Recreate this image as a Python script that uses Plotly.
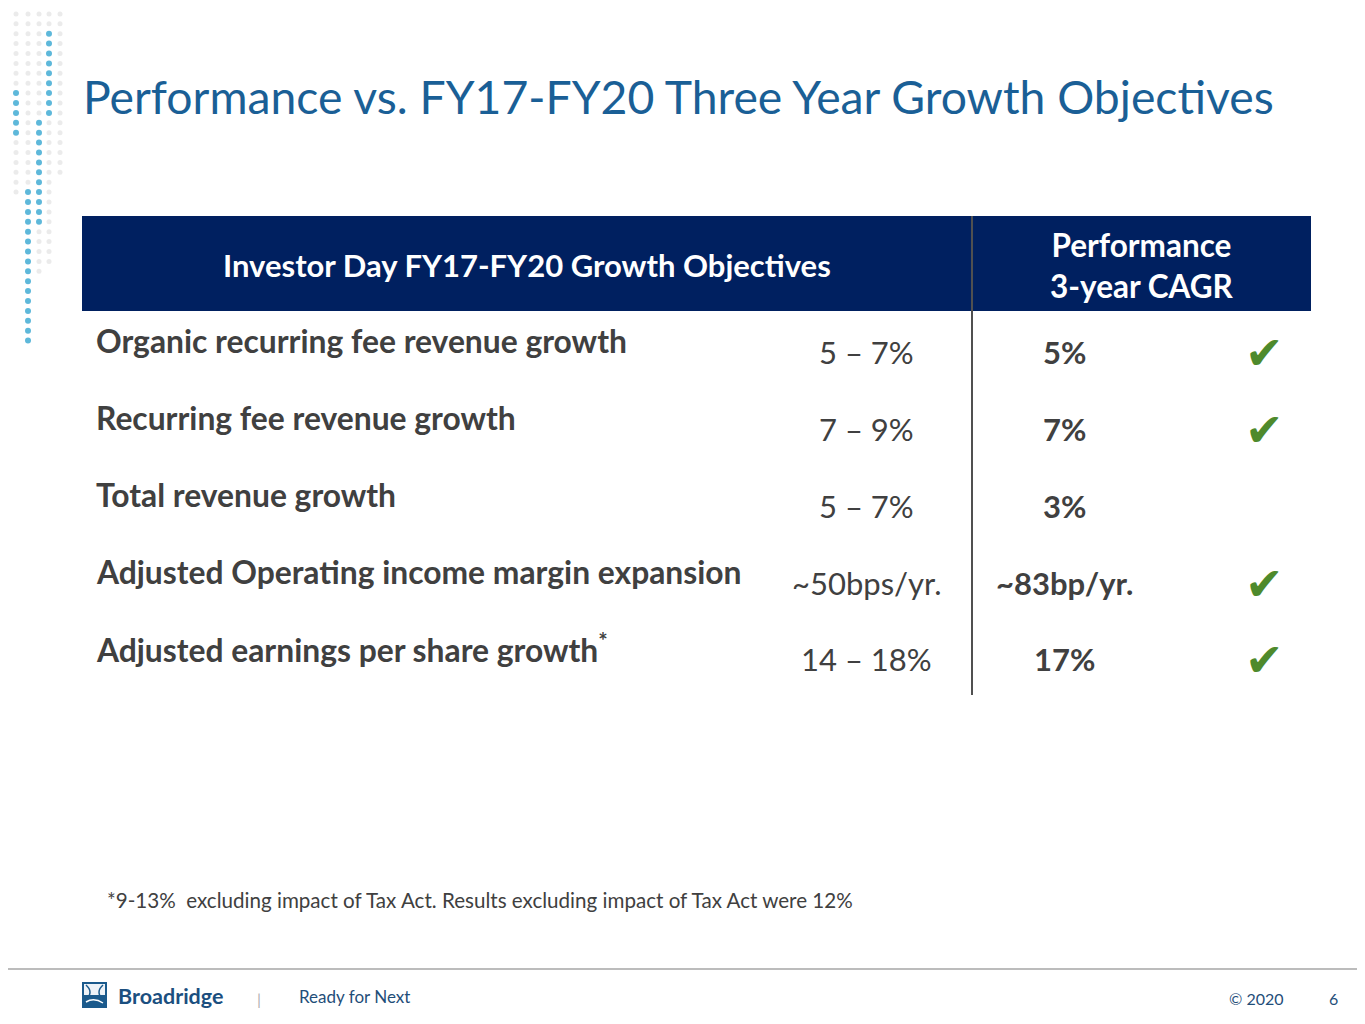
import plotly.graph_objects as go

# table content
objectives = ['Organic recurring fee revenue growth',
              'Recurring fee revenue growth',
              'Total revenue growth',
              'Adjusted Operating income margin expansion',
              'Adjusted earnings per share growth<sup>*</sup>']
targets = ['5 – 7%', '7 – 9%', '5 – 7%', '~50bps/yr.', '14 – 18%']
performance = ['5%', '7%', '3%', '~83bp/yr.', '17%']
achieved = [True, True, False, True, True]

header_left = 'Investor Day FY17-FY20 Growth Objectives'
header_right = 'Performance<br>3-year CAGR'
title = 'Performance vs. FY17-FY20 Three Year Growth Objectives'
footnote = '*9-13%  excluding impact of Tax Act. Results excluding impact of Tax Act were 12%'

# decorative dot columns: (x, first blue row, last blue row, last grey row)
dot_cols = [(16, 9, 13, 19), (28, 19, 34, 24), (39, 12, 22, 27), (49, 3, 11, 26), (60, -1, -1, 17)]

NAVY = '#002060'
BLUE = '#1a5f96'
TEXT = '#404040'
GREEN = '#4e8a2c'
FOOT = '#1f4e79'
FONT = 'Lato'

W, H = 1365, 1024
PAD = 8  # page body margin

fig = go.Figure()

# dots
for cx, b0, b1, g1 in dot_cols:
    xs, ys, cs, ss = [], [], [], []
    for r in range(35):
        blue = b0 <= r <= b1
        if not blue and r > g1:
            continue
        xs.append(cx)
        ys.append(4 + r * 9.9)
        cs.append('#1a9acb' if blue else '#e3e3e3')
        ss.append(6 if blue else 5)
    fig.add_trace(go.Scatter(x=xs, y=ys, mode='markers', hoverinfo='skip',
                             marker=dict(color=cs, size=ss, line_width=0)))

shapes = [
    dict(type='rect', x0=82, x1=1311, y0=216, y1=311, fillcolor=NAVY, line_width=0),
    dict(type='line', x0=972, x1=972, y0=216, y1=695, line=dict(color='#505050', width=2)),
    dict(type='line', x0=0, x1=W, y0=969, y1=969, line=dict(color='#a6a6a6', width=1.5)),
    dict(type='rect', x0=82, x1=107, y0=982, y1=1008, fillcolor='#1b5a8c', line_width=0),
    dict(type='rect', x0=84, x1=105, y0=984, y1=995, fillcolor='#eef3f8', line_width=0),
    dict(type='path', path='M 86 985 Q 94 992 86 1000 M 103 985 Q 95 992 103 1000',
         line=dict(color='#1b5a8c', width=1.5)),
    dict(type='path', path='M 86 1002 Q 94 997 103 1003', line=dict(color='white', width=1.5)),
]

ann = []
ann.append(dict(x=81, y=96, text=title, xanchor='left', yanchor='middle',
                font=dict(family=FONT, size=46.3, color=BLUE)))
ann.append(dict(x=527, y=265, text='<b>' + header_left + '</b>', xanchor='center', yanchor='middle',
                font=dict(family=FONT, size=31, color='white')))
ann.append(dict(x=1142, y=265, text='<b>' + header_right + '</b>', xanchor='center', yanchor='middle',
                font=dict(family=FONT, size=31.5, color='white')))

row_y = [341, 418, 495, 572, 648]
for i, label in enumerate(objectives):
    ann.append(dict(x=94, y=row_y[i], text='<b>' + label + '</b>', xanchor='left', yanchor='middle',
                    font=dict(family=FONT, size=31.8, color=TEXT)))
    ann.append(dict(x=866, y=row_y[i] + 11, text=targets[i], xanchor='center', yanchor='middle',
                    font=dict(family=FONT, size=31, color=TEXT)))
    ann.append(dict(x=1064, y=row_y[i] + 11, text='<b>' + performance[i] + '</b>', xanchor='center',
                    yanchor='middle', font=dict(family=FONT, size=31, color=TEXT)))
    if achieved[i]:
        ann.append(dict(x=1264, y=row_y[i] + 12, text='✔', xanchor='center', yanchor='middle',
                        font=dict(family='DejaVu Sans', size=46, color=GREEN)))

ann.append(dict(x=105, y=900, text=footnote, xanchor='left', yanchor='middle',
                font=dict(family=FONT, size=20.6, color=TEXT)))
ann.append(dict(x=116, y=996, text='<b>Broadridge</b>', xanchor='left', yanchor='middle',
                font=dict(family=FONT, size=21.5, color='#1b4f7f')))
ann.append(dict(x=259, y=998, text='|', xanchor='center', yanchor='middle',
                font=dict(family=FONT, size=16, color='#b0b0b0')))
ann.append(dict(x=297, y=996, text='Ready for Next', xanchor='left', yanchor='middle',
                font=dict(family=FONT, size=17, color=FOOT)))
ann.append(dict(x=1256, y=998, text='© 2020', xanchor='center', yanchor='middle',
                font=dict(family=FONT, size=16, color=FOOT)))
ann.append(dict(x=1333, y=998, text='6', xanchor='center', yanchor='middle',
                font=dict(family=FONT, size=16, color=FOOT)))
for a in ann:
    a.update(xref='x', yref='y', showarrow=False)

# figure sits inside the page's 8px body margin, so shift the axes to keep slide coordinates
fw, fh = W - 2 * PAD, H - 2 * PAD
fig.update_layout(width=fw, height=fh, margin=dict(l=0, r=0, t=0, b=0),
                  plot_bgcolor='white', paper_bgcolor='white', showlegend=False,
                  shapes=shapes, annotations=ann)
fig.update_xaxes(range=[PAD, PAD + fw], visible=False, fixedrange=True)
fig.update_yaxes(range=[PAD + fh, PAD], visible=False, fixedrange=True)

fig.write_html("out.html")
